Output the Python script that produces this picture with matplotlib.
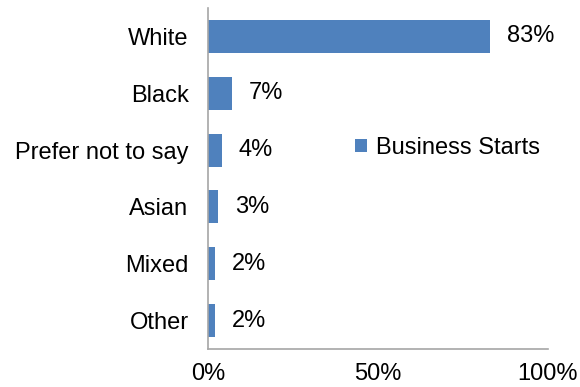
import matplotlib
matplotlib.use("Agg")
import matplotlib.pyplot as plt
from matplotlib.ticker import FuncFormatter

categories = ["White", "Black", "Prefer not to say", "Asian", "Mixed", "Other"]
values = [83, 7, 4, 3, 2, 2]
series_name = "Business Starts"

plt.rcParams['font.family'] = ['Liberation Sans', 'DejaVu Sans']
color = "#4F81BD"
fs = 17

fig = plt.figure(figsize=(5.8, 3.87), dpi=100)
ax = fig.add_axes([208/580, 1-349/387, 340/580, 341/387])

ypos = list(range(len(categories)))[::-1]
bars = ax.barh(ypos, values, height=0.58, color=color, label=series_name)
ax.set_ylim(-0.5, 5.5)
ax.set_xlim(0, 100)
ax.set_yticks(ypos)
ax.set_yticklabels(categories, fontsize=fs)
ax.set_xticks([0, 50, 100])
ax.xaxis.set_major_formatter(FuncFormatter(lambda v, p: f"{int(v)}%"))
ax.tick_params(axis='x', length=0, pad=10, labelsize=fs)
ax.tick_params(axis='y', length=0, pad=14)

for s in ['top', 'right']:
    ax.spines[s].set_visible(False)
for s in ['left', 'bottom']:
    ax.spines[s].set_color('#A6A6A6')
    ax.spines[s].set_linewidth(1.2)

for b, v in zip(bars, values):
    ax.text(b.get_width() + 5, b.get_y() + b.get_height()/2, f"{v}%",
            va='center', ha='left', fontsize=fs)

ax.legend(loc='center left', bbox_to_anchor=(0.432, 0.59), frameon=False,
          fontsize=fs, handlelength=0.5, handleheight=0.5, handletextpad=0.4,
          borderpad=0, borderaxespad=0)

fig.savefig("out.png", dpi=100)
